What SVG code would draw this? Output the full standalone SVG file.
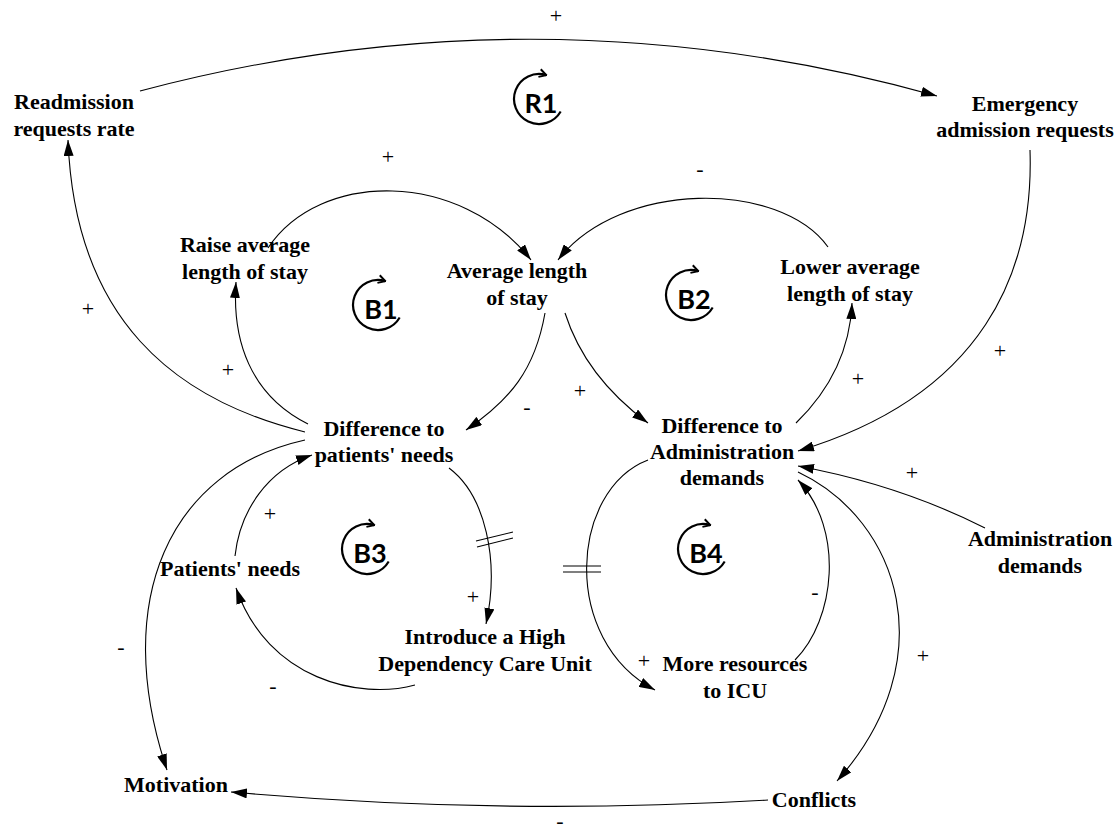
<svg xmlns="http://www.w3.org/2000/svg" width="1120" height="840" viewBox="0 0 1120 840">
<style>
.lbl{font-family:"Liberation Serif","Times New Roman",serif;font-weight:bold;font-size:22px;fill:#000;text-anchor:middle}
.pol{font-family:"Liberation Serif","Times New Roman",serif;font-size:22px;fill:#000;text-anchor:middle}
.lk{fill:none;stroke:#000;stroke-width:1.1;marker-end:url(#arr)}
.dl{fill:none;stroke:#000;stroke-width:1.1}
.lp{fill:none;stroke:#000;stroke-width:2.2;marker-end:url(#chev)}
.lt{font-family:Lato,"Open Sans",sans-serif;font-weight:bold;font-size:27px;fill:#000;text-anchor:middle}
</style>
<defs>
<marker id="arr" markerUnits="userSpaceOnUse" viewBox="0 0 16 10" refX="16" refY="5" markerWidth="16" markerHeight="10" orient="auto">
<path d="M0,0 L16,5 L0,10 z" fill="#000"/>
</marker>
<marker id="chev" markerUnits="userSpaceOnUse" viewBox="0 0 10 10" refX="9" refY="5" markerWidth="10" markerHeight="10" orient="auto">
<path d="M2,1 L9,5 L2,9" fill="none" stroke="#000" stroke-width="2"/>
</marker>
</defs>
<rect width="1120" height="840" fill="#fff"/>

<g id="connectors">
<path class="lk" d="M140,91 Q540,-15 937,96"/>
<path class="lk" d="M1030,150 C1034,270 985,395 798,451"/>
<path class="lk" d="M305,432 C175,400 75,320 68,140"/>
<path class="lk" d="M308,424 C250,395 232,340 236,282"/>
<path class="lk" d="M268,248 C320,170 460,170 531,260"/>
<path class="lk" d="M828,247 C780,180 620,180 558,260"/>
<path class="lk" d="M545,313 C535,370 510,400 466,430"/>
<path class="lk" d="M565,313 C580,360 610,395 648,423"/>
<path class="lk" d="M796,423 C830,390 850,350 852,303"/>
<path class="lk" d="M235,556 C240,510 268,470 312,455"/>
<path class="lk" d="M449,468 C485,495 500,560 486,624"/>
<path class="lk" d="M415,685 C360,700 268,680 236,588"/>
<path class="lk" d="M648,460 C570,490 560,640 655,690"/>
<path class="lk" d="M795,660 C835,620 845,530 798,480"/>
<path class="lk" d="M985,528 Q900,485 798,466"/>
<path class="lk" d="M798,472 C900,520 945,660 837,781"/>
<path class="lk" d="M768,800 Q500,816 231,792"/>
<path class="lk" d="M305,440 C170,470 110,600 167,770"/>
<g id="delays">
<path class="dl" d="M476,541 L513,532 M477,547 L513,538"/>
<path class="dl" d="M563,566 L601,566 M563,572 L601,572"/>
</g>
<g id="polarities">
<text class="pol" x="556" y="23">+</text>
<text class="pol" x="388" y="164">+</text>
<text class="pol" x="700" y="176">-</text>
<text class="pol" x="88" y="316">+</text>
<text class="pol" x="228" y="377">+</text>
<text class="pol" x="527" y="414">-</text>
<text class="pol" x="580" y="398">+</text>
<text class="pol" x="858" y="386">+</text>
<text class="pol" x="1000" y="358">+</text>
<text class="pol" x="912" y="480">+</text>
<text class="pol" x="270" y="521">+</text>
<text class="pol" x="473" y="604">+</text>
<text class="pol" x="121" y="654">-</text>
<text class="pol" x="273" y="693">-</text>
<text class="pol" x="815" y="599">-</text>
<text class="pol" x="644" y="668">+</text>
<text class="pol" x="923" y="663">+</text>
<text class="pol" x="560" y="828">-</text>
</g>
</g>

<g id="loops">
<g id="R1" transform="translate(539,99)"><path class="lp" d="M21.7,12.5 A25,25 0 1 1 7.3,-23.9"/><text class="lt" x="2" y="14">R1</text></g>
<g id="B1" transform="translate(378,305)"><path class="lp" d="M21.7,12.5 A25,25 0 1 1 7.3,-23.9"/><text class="lt" x="3" y="14">B1</text></g>
<g id="B2" transform="translate(691,295)"><path class="lp" d="M21.7,12.5 A25,25 0 1 1 7.3,-23.9"/><text class="lt" x="3" y="14">B2</text></g>
<g id="B3" transform="translate(367,549)"><path class="lp" d="M21.7,12.5 A25,25 0 1 1 7.3,-23.9"/><text class="lt" x="3" y="14">B3</text></g>
<g id="B4" transform="translate(703,549)"><path class="lp" d="M21.7,12.5 A25,25 0 1 1 7.3,-23.9"/><text class="lt" x="3" y="14">B4</text></g>
</g>

<g id="n-readmission"><text class="lbl" x="74" y="109">Readmission</text><text class="lbl" x="74" y="136">requests rate</text></g>
<g id="n-emergency"><text class="lbl" x="1025" y="111">Emergency</text><text class="lbl" x="1025" y="137">admission requests</text></g>
<g id="n-raise"><text class="lbl" x="245" y="252">Raise average</text><text class="lbl" x="245" y="279">length of stay</text></g>
<g id="n-average"><text class="lbl" x="517" y="278">Average length</text><text class="lbl" x="517" y="305">of stay</text></g>
<g id="n-lower"><text class="lbl" x="850" y="274">Lower average</text><text class="lbl" x="850" y="301">length of stay</text></g>
<g id="n-diffpatients"><text class="lbl" x="384" y="436">Difference to</text><text class="lbl" x="384" y="462">patients' needs</text></g>
<g id="n-diffadmin"><text class="lbl" x="722" y="433">Difference to</text><text class="lbl" x="722" y="459">Administration</text><text class="lbl" x="722" y="485">demands</text></g>
<g id="n-patients"><text class="lbl" x="230" y="576">Patients' needs</text></g>
<g id="n-hdcu"><text class="lbl" x="485" y="644">Introduce a High</text><text class="lbl" x="485" y="671">Dependency Care Unit</text></g>
<g id="n-resources"><text class="lbl" x="735" y="671">More resources</text><text class="lbl" x="735" y="698">to ICU</text></g>
<g id="n-admindemands"><text class="lbl" x="1040" y="546">Administration</text><text class="lbl" x="1040" y="573">demands</text></g>
<g id="n-motivation"><text class="lbl" x="176" y="792">Motivation</text></g>
<g id="n-conflicts"><text class="lbl" x="814" y="807">Conflicts</text></g>
</svg>
